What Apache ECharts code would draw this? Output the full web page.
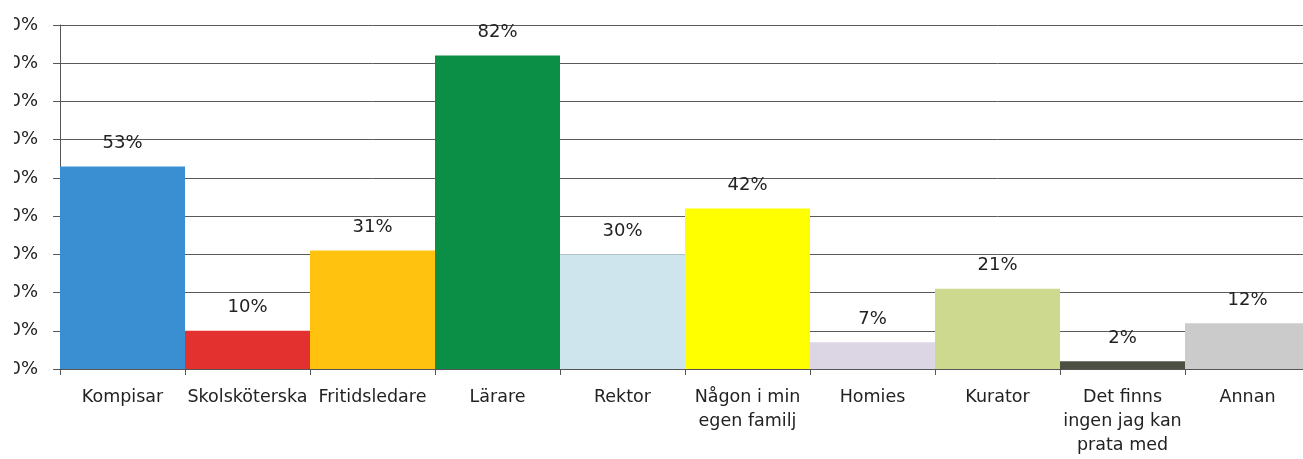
<!DOCTYPE html>
<html lang="sv">
<head>
    <meta charset="UTF-8">
    <title>Vem pratar du med</title>
    <script src="https://cdn.jsdelivr.net/npm/echarts@6/dist/echarts.min.js"></script>
    <style type="text/css">
        html, body { margin: 0; padding: 0; background: #fff; overflow: hidden; }
        /* bilden är beskuren till vänster, därav klippet */
        #clip { position: absolute; left: 14px; top: 0; width: 1289px; height: 459px; overflow: hidden; }
        #main { position: absolute; left: -14px; top: 0; width: 1330px; height: 459px; }
    </style>
</head>
<body>
<div id="clip"><div id="main"></div></div>
<script type="text/javascript">
    var categories = ['Kompisar', 'Skolsköterska', 'Fritidsledare', 'Lärare', 'Rektor',
        'Någon i min\negen familj', 'Homies', 'Kurator', 'Det finns\ningen jag kan\nprata med', 'Annan'];
    var percent = [53, 10, 31, 82, 30, 42, 7, 21, 2, 12];
    var barColors = ['#3a8fd2', '#e2312f', '#ffc20e', '#0b8f47', '#cfe5ee',
        '#ffff00', '#dcd6e4', '#cdd98f', '#4b5043', '#cbcbcb'];
    var yTicks = [0, 10, 20, 30, 40, 50, 60, 70, 80, 90];

    var font = 'DejaVu Sans';
    var myChart = echarts.init(document.getElementById('main'));
    var option = {
        animation: false,
        grid: { left: 60, right: 20, top: 25, bottom: 90, outerBoundsMode: 'none' },
        xAxis: {
            type: 'category',
            data: categories,
            axisLine: { lineStyle: { color: '#555', width: 1 } },
            axisTick: { show: true, length: 6, lineStyle: { color: '#555' } },
            axisLabel: {
                interval: 0,
                margin: 16,
                fontFamily: font,
                fontSize: 17.5,
                lineHeight: 24,
                color: '#222'
            }
        },
        yAxis: {
            type: 'value',
            min: yTicks[0],
            max: yTicks[yTicks.length - 1],
            interval: 10,
            axisLine: { show: true, lineStyle: { color: '#555', width: 1 } },
            axisTick: { show: true, length: 7, lineStyle: { color: '#555' } },
            splitLine: { lineStyle: { color: '#5a5a5a', width: 1 } },
            axisLabel: {
                margin: 22,
                formatter: '{value}%',
                fontFamily: font,
                fontSize: 18,
                color: '#222'
            }
        },
        series: [{
            type: 'bar',
            data: percent,
            barCategoryGap: '0%',
            itemStyle: {
                color: function (p) { return barColors[p.dataIndex]; }
            },
            label: {
                show: true,
                position: 'top',
                distance: 14,
                formatter: '{c}%',
                fontFamily: font,
                fontSize: 18,
                color: '#222'
            }
        }]
    };
    myChart.setOption(option);
</script>
</body>
</html>
